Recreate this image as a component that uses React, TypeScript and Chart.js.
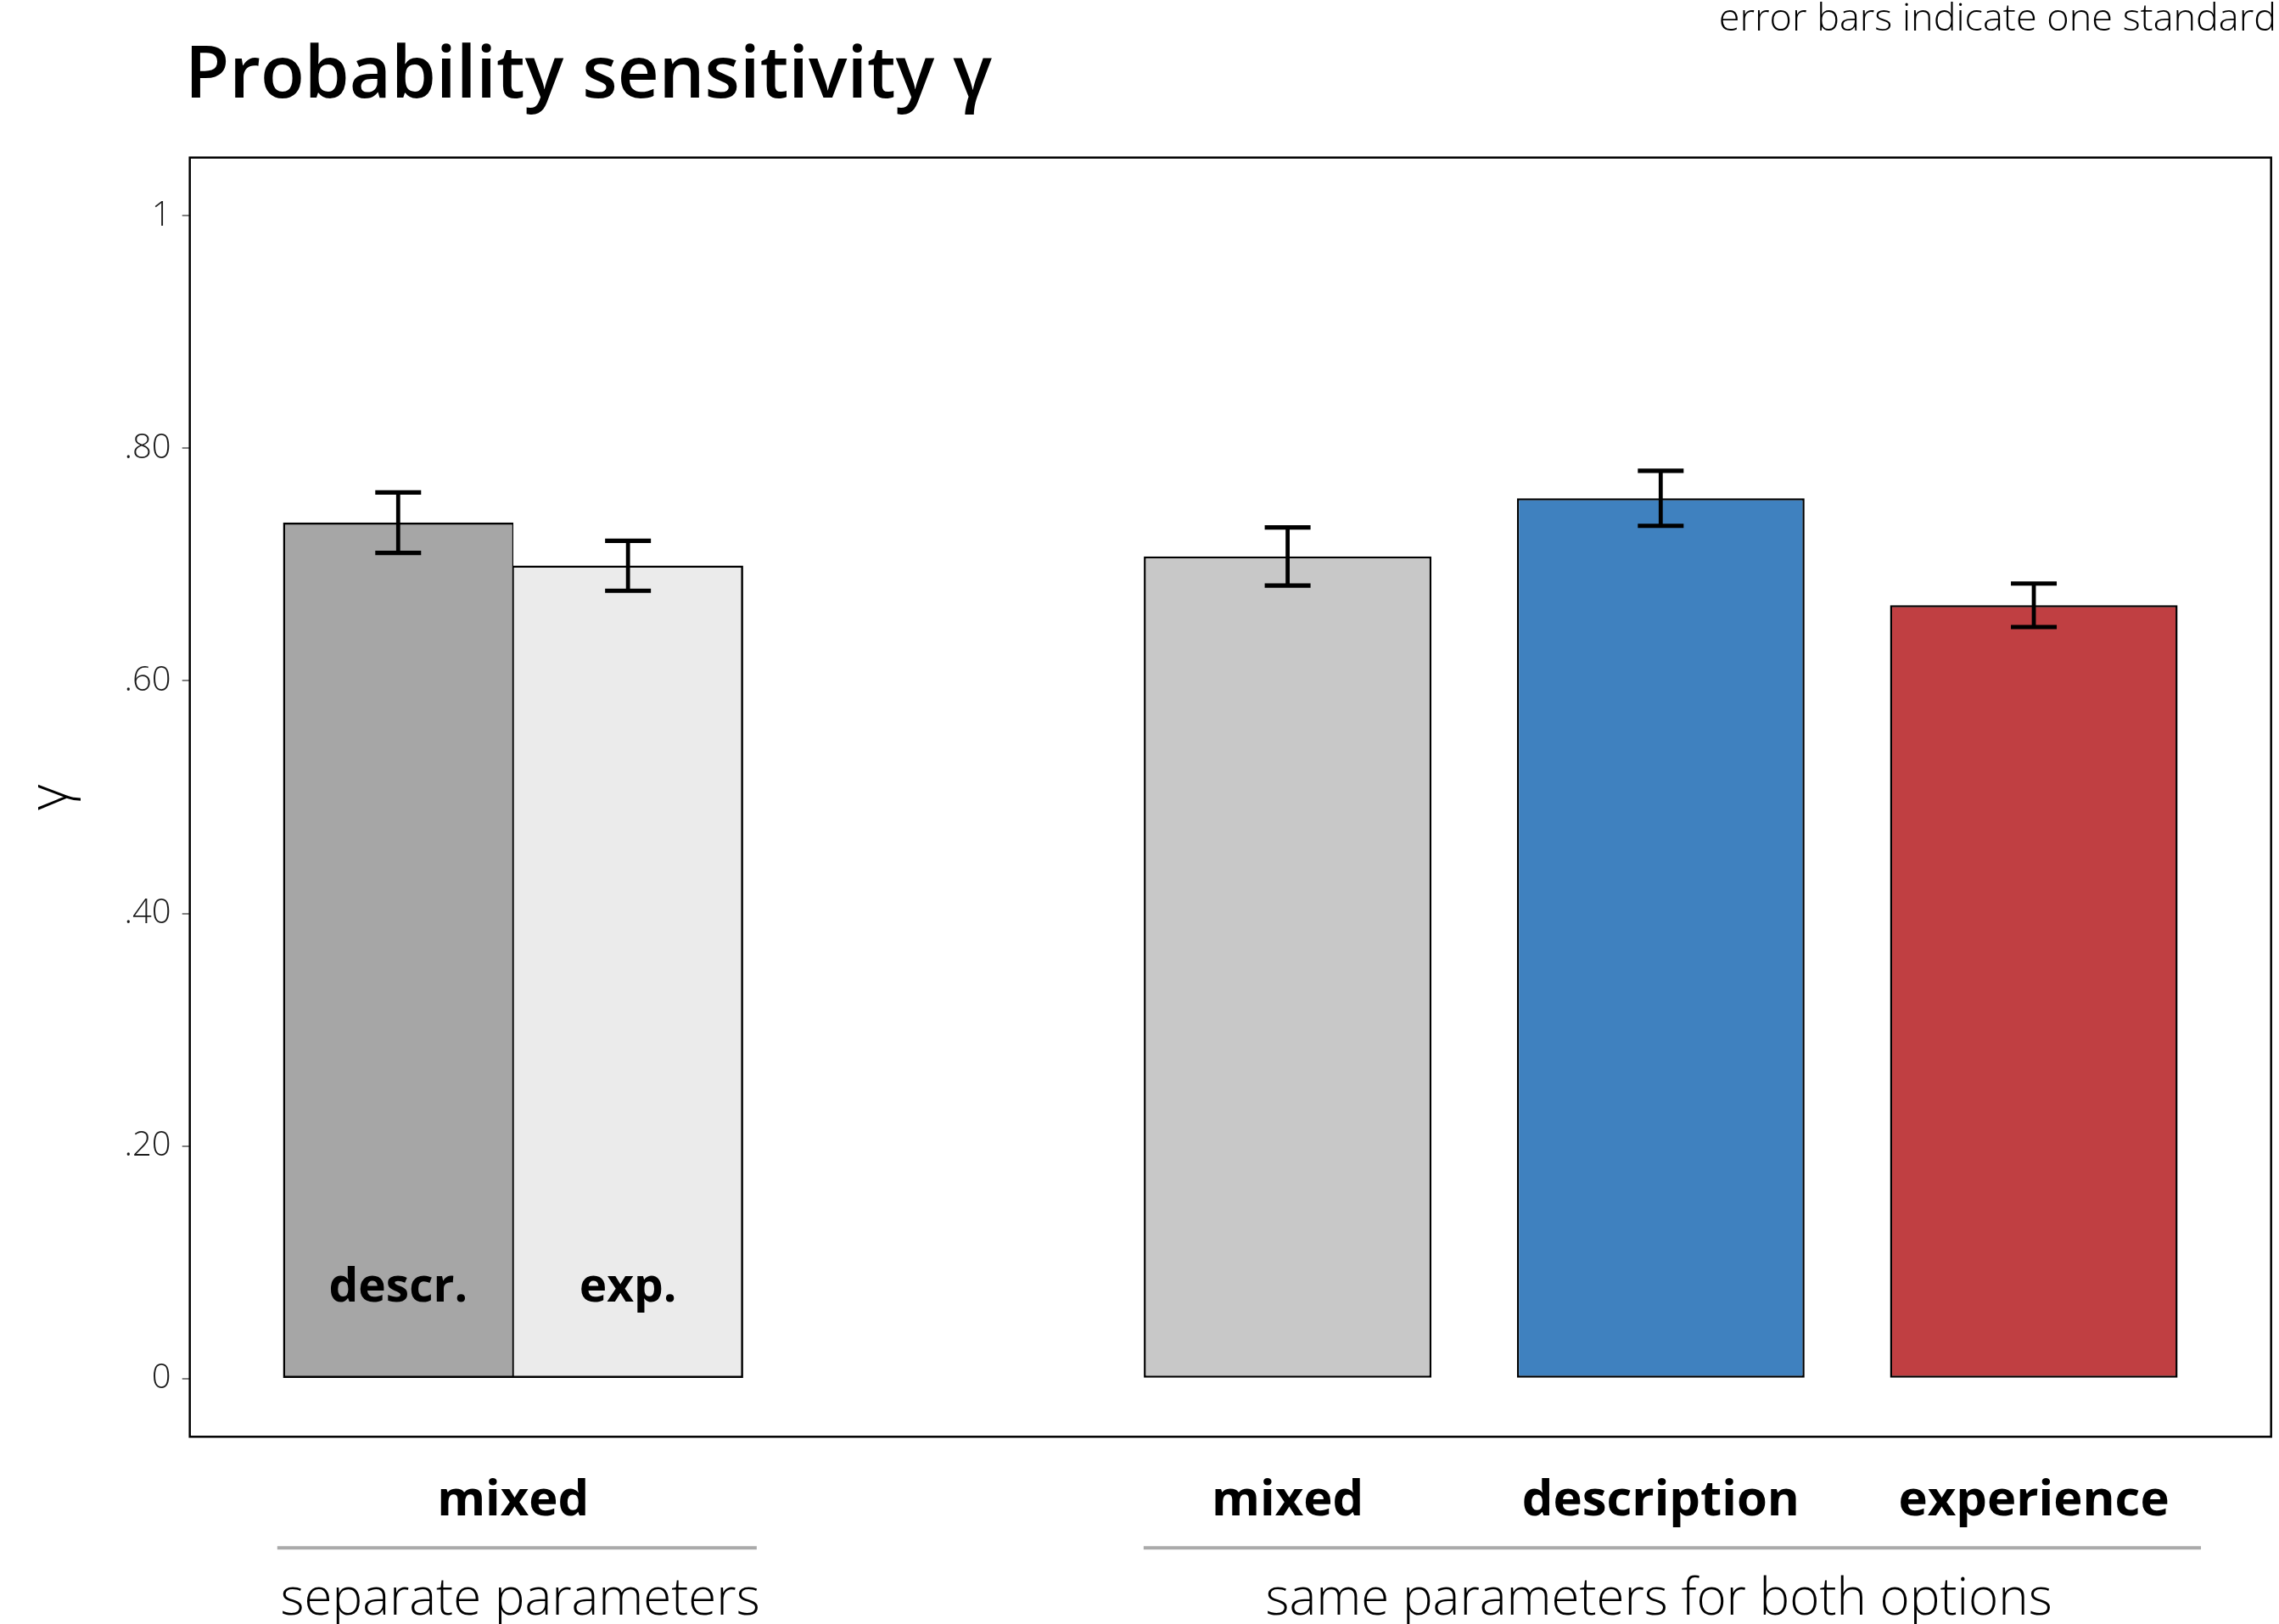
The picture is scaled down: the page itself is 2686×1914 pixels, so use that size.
import React, { useEffect, useRef } from "react";
import { Chart, registerables } from "chart.js";

Chart.register(...registerables);

// ---------- data ----------
const titleText = "Probability sensitivity γ";
const noteText = "error bars indicate one standard";
const yAxisTitle = "γ";

const separateGroupLabel = "mixed";
const separateCategories = ["descr.", "exp."];
const separateMeans = [0.736, 0.699];
const separateErrors = [0.026, 0.0215];

const sameCategories = ["mixed", "description", "experience"];
const sameMeans = [0.707, 0.757, 0.665];
const sameErrors = [0.025, 0.0237, 0.0187];

const groupTitles = ["separate parameters", "same parameters for both options"];

const yTickValues = [0, 0.2, 0.4, 0.6, 0.8, 1];
const yTickLabels = ["0", ".20", ".40", ".60", ".80", "1"];

// ---------- styles / layout (in axis units where noted) ----------
const separateColors = ["#A6A6A6", "#EBEBEB"];
const sameColors = ["#C8C8C8", "#3F81BF", "#C03F42"];
const separateSlots = [0.616, 1.232];
const sameSlots = [3, 4, 5];
const xRange = [0.0575, 5.636];
const yRange = [-0.05, 1.05];
const groupSpans = [
  [0.292, 1.577],
  [2.614, 5.448],
];
const groupTitleCenters = [0.943, 3.995];

const FONT = '"Open Sans", "Noto Sans", sans-serif';

const decorPlugin = {
  id: "decor",
  beforeDraw(chart: any) {
    const ctx = chart.ctx;
    ctx.save();
    ctx.fillStyle = "#ffffff";
    ctx.fillRect(0, 0, chart.width, chart.height);
    ctx.restore();
  },
  afterDatasetsDraw(chart: any) {
    const ctx = chart.ctx;
    const y = chart.scales.y;
    chart.data.datasets.forEach((ds: any, di: number) => {
      const meta = chart.getDatasetMeta(di);
      meta.data.forEach((bar: any, i: number) => {
        const mean = ds.data[i].y;
        const err = ds.errors[i];
        const top = y.getPixelForValue(mean + err);
        const bot = y.getPixelForValue(mean - err);
        const half = 27;
        ctx.save();
        ctx.strokeStyle = "#000";
        ctx.lineCap = "butt";
        ctx.lineWidth = 4.8;
        ctx.beginPath();
        ctx.moveTo(bar.x, top);
        ctx.lineTo(bar.x, bot);
        ctx.stroke();
        ctx.lineWidth = 5.2;
        ctx.beginPath();
        ctx.moveTo(bar.x - half, top);
        ctx.lineTo(bar.x + half, top);
        ctx.moveTo(bar.x - half, bot);
        ctx.lineTo(bar.x + half, bot);
        ctx.stroke();
        ctx.restore();
      });
    });
    // inner labels of the separate-parameter bars
    const meta0 = chart.getDatasetMeta(0);
    ctx.save();
    ctx.fillStyle = "#000";
    ctx.font = `bold 55px ${FONT}`;
    ctx.textAlign = "center";
    ctx.textBaseline = "alphabetic";
    const base = y.getPixelForValue(0) - 91;
    meta0.data.forEach((bar: any, i: number) => {
      ctx.fillText(separateCategories[i], bar.x, base);
    });
    ctx.restore();
  },
  afterDraw(chart: any) {
    const ctx = chart.ctx;
    const area = chart.chartArea;
    const x = chart.scales.x;
    ctx.save();
    // plot frame
    ctx.strokeStyle = "#000";
    ctx.lineWidth = 2.5;
    ctx.strokeRect(area.left, area.top, area.right - area.left, area.bottom - area.top);

    // title
    ctx.fillStyle = "#000";
    ctx.textAlign = "left";
    ctx.textBaseline = "alphabetic";
    ctx.font = `600 85px ${FONT}`;
    ctx.fillText(titleText, 218, 115);

    // note
    ctx.font = `300 45px ${FONT}`;
    ctx.textAlign = "right";
    ctx.fillText(noteText, 2683, 36);

    // category labels
    ctx.textAlign = "center";
    ctx.font = `bold 58px ${FONT}`;
    const catBase = area.bottom + 93;
    ctx.fillText(separateGroupLabel, x.getPixelForValue((separateSlots[0] + separateSlots[1]) / 2), catBase);
    sameCategories.forEach((c, i) => {
      ctx.fillText(c, x.getPixelForValue(sameSlots[i]), catBase);
    });

    // group lines
    ctx.strokeStyle = "#AAAAAA";
    ctx.lineWidth = 4;
    const lineY = area.bottom + 131;
    groupSpans.forEach(([a, b]) => {
      ctx.beginPath();
      ctx.moveTo(x.getPixelForValue(a), lineY);
      ctx.lineTo(x.getPixelForValue(b), lineY);
      ctx.stroke();
    });

    // group titles
    ctx.font = `300 60px ${FONT}`;
    const gBase = area.bottom + 210;
    groupTitles.forEach((t, i) => {
      ctx.fillText(t, x.getPixelForValue(groupTitleCenters[i]), gBase);
    });
    ctx.restore();
  },
};

export default function App() {
  const ref = useRef<HTMLCanvasElement | null>(null);
  useEffect(() => {
    if (!ref.current) return;
    const chart = new Chart(ref.current, {
      type: "bar",
      data: {
        datasets: [
          {
            label: "separate parameters",
            data: separateSlots.map((sx, i) => ({ x: sx, y: separateMeans[i] })),
            backgroundColor: separateColors,
            borderColor: "#000",
            borderWidth: [
              { top: 2.5, left: 2.5, bottom: 2.5, right: 1.25 },
              { top: 2.5, left: 1.25, bottom: 2.5, right: 2.5 },
            ],
            borderSkipped: false,
            grouped: false,
            barPercentage: 1,
            categoryPercentage: 1,
            errors: separateErrors,
          } as any,
          {
            label: "same parameters for both options",
            data: sameSlots.map((sx, i) => ({ x: sx, y: sameMeans[i] })),
            backgroundColor: sameColors,
            borderColor: "#000",
            borderWidth: 2.5,
            borderSkipped: false,
            grouped: false,
            barPercentage: 1.2516,
            categoryPercentage: 1,
            errors: sameErrors,
          } as any,
        ],
      },
      options: {
        responsive: false,
        animation: false,
        devicePixelRatio: 1,
        layout: { padding: { left: 20, top: 185.7, right: 9.3, bottom: 220.7 } },
        plugins: {
          legend: { display: false },
          tooltip: { enabled: false },
          title: { display: false },
        },
        scales: {
          x: {
            type: "linear",
            min: xRange[0],
            max: xRange[1],
            offset: false,
            grid: { offset: false },
            display: false,
          },
          y: {
            type: "linear",
            min: yRange[0],
            max: yRange[1],
            afterBuildTicks: (s: any) => {
              s.ticks = yTickValues.map((v) => ({ value: v }));
            },
            afterFit: (s: any) => {
              s.width = 203.7;
            },
            ticks: {
              autoSkip: false,
              callback: (_v: any, i: number) => yTickLabels[i],
              font: { family: FONT, size: 40, weight: "300" },
              color: "#1a1a1a",
              padding: 13,
            },
            grid: {
              drawOnChartArea: false,
              drawTicks: true,
              tickLength: 9,
              color: "#7f7f7f",
              lineWidth: 2,
            },
            border: { display: false },
            title: {
              display: true,
              text: yAxisTitle,
              font: { family: FONT, size: 64, weight: "300" },
              color: "#000",
              padding: { top: 2, bottom: 0 },
            },
          },
        },
      } as any,
      plugins: [decorPlugin],
    });
    return () => chart.destroy();
  }, []);
  return (
    <div style={{ position: "absolute", left: 0, top: 0, width: 2686, height: 1914, background: "#fff" }}>
      <canvas ref={ref} width={2686} height={1914} style={{ display: "block", width: 2686, height: 1914 }} />
    </div>
  );
}
